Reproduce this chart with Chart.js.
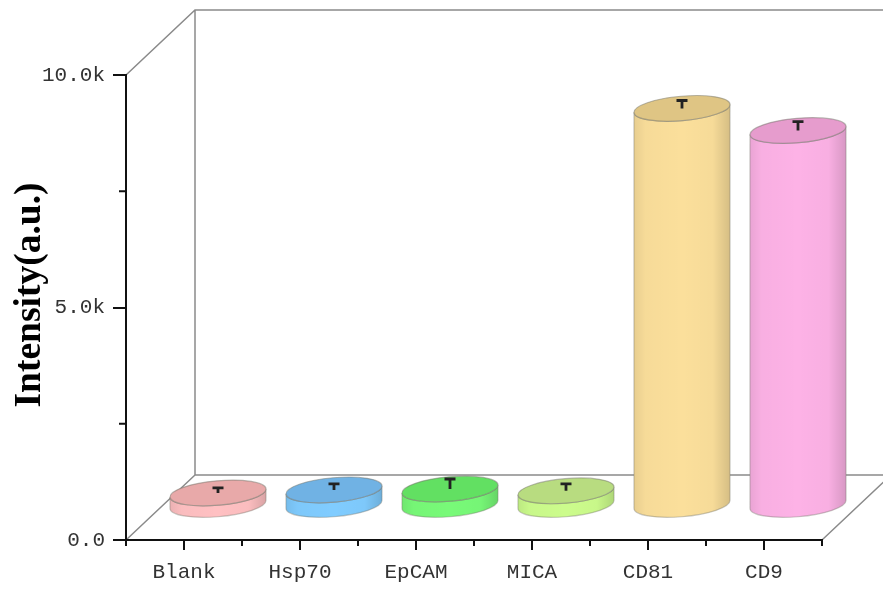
<!DOCTYPE html>
<html>
<head>
<meta charset="utf-8">
<style>
  html, body { margin: 0; padding: 0; background: #fff; }
  canvas { display: block; }
</style>
<script src="https://cdn.jsdelivr.net/npm/chart.js@4"></script>
</head>
<body>
<canvas id="intensity" width="883" height="593"></canvas>
<script>
const categories = ['Blank', 'Hsp70', 'EpCAM', 'MICA', 'CD81', 'CD9'];
const intensity = [270, 335, 355, 315, 8540, 8065];
const errors = [110, 130, 215, 150, 170, 190];
const sideColors = ['#ffc0c2', '#80ccff', '#78fa78', '#ccfc8c', '#fbdf9b', '#fdb2e6'];
const topColors = ['#e8a9a9', '#70b2e4', '#62e062', '#b8dc80', '#dfc584', '#e69ccd'];
const yTickValues = [0, 5000, 10000];
const yTickLabels = ['0.0', '5.0k', '10.0k'];
const yMinorTicks = [2500, 7500];

// oblique offset of the back wall, cylinders stand half way into it
const backDx = 69, backDy = 65;
const barDx = 34, barDy = 34.5;
const ellipseB = 12.2, ellipseTilt = -5 * Math.PI / 180;

// the original labels are in a fixed width font
const axisFont = { family: '"Liberation Mono", monospace', size: 21 };

function drawFrame(chart) {
    const ctx = chart.ctx, a = chart.chartArea;
    ctx.save();
    ctx.strokeStyle = '#8a8a8a';
    ctx.lineWidth = 1.5;
    ctx.beginPath();
    ctx.moveTo(a.left, a.top);
    ctx.lineTo(a.left + backDx, a.top - backDy);
    ctx.lineTo(a.right + backDx, a.top - backDy);
    ctx.moveTo(a.left + backDx, a.top - backDy);
    ctx.lineTo(a.left + backDx, a.bottom - backDy);
    ctx.lineTo(a.right + backDx, a.bottom - backDy);
    ctx.moveTo(a.left, a.bottom);
    ctx.lineTo(a.left + backDx, a.bottom - backDy);
    ctx.moveTo(a.right, a.bottom);
    ctx.lineTo(a.right + backDx, a.bottom - backDy);
    ctx.stroke();
    ctx.restore();
}

function drawCylinder(ctx, bar, side, top) {
    const halfW = bar.width / 2;
    const cx = bar.x + barDx, topY = bar.y - barDy, baseY = bar.base - barDy;
    const sin = Math.sin(ellipseTilt), cos = Math.cos(ellipseTilt);
    const a = Math.sqrt(halfW * halfW - ellipseB * ellipseB * sin * sin) / cos;
    const t0 = Math.atan(-ellipseB * sin / (a * cos));
    const leftDy = a * Math.cos(t0 + Math.PI) * sin + ellipseB * Math.sin(t0 + Math.PI) * cos;

    ctx.beginPath();
    ctx.ellipse(cx, baseY, a, ellipseB, ellipseTilt, t0, t0 + Math.PI);
    ctx.lineTo(cx - halfW, topY + leftDy);
    ctx.ellipse(cx, topY, a, ellipseB, ellipseTilt, t0 + Math.PI, t0, true);
    ctx.closePath();
    ctx.fillStyle = side;
    ctx.fill();

    // shading across the body
    const shade = ctx.createLinearGradient(cx - halfW, 0, cx + halfW, 0);
    shade.addColorStop(0, 'rgba(0,0,0,0.08)');
    shade.addColorStop(0.12, 'rgba(0,0,0,0.02)');
    shade.addColorStop(0.5, 'rgba(0,0,0,0)');
    shade.addColorStop(0.82, 'rgba(0,0,0,0.02)');
    shade.addColorStop(1, 'rgba(0,0,0,0.15)');
    ctx.fillStyle = shade;
    ctx.fill();
    ctx.strokeStyle = 'rgba(120,120,110,0.4)';
    ctx.lineWidth = 1.2;
    ctx.stroke();

    ctx.beginPath();
    ctx.ellipse(cx, topY, a, ellipseB, ellipseTilt, 0, Math.PI * 2);
    ctx.fillStyle = top;
    ctx.fill();
    ctx.strokeStyle = 'rgba(120,120,110,0.5)';
    ctx.stroke();
}

function drawErrorBar(ctx, bar, y, err) {
    const cx = bar.x + barDx;
    const yTop = y.getPixelForValue(err) - barDy;
    ctx.strokeStyle = '#222';
    ctx.lineWidth = 2.8;
    ctx.beginPath();
    ctx.moveTo(cx, bar.y - barDy);
    ctx.lineTo(cx, yTop);
    ctx.moveTo(cx - 5.5, yTop);
    ctx.lineTo(cx + 5.5, yTop);
    ctx.stroke();
}

const cylinderPlugin = {
    id: 'cylinders',
    beforeDraw: drawFrame,
    // the flat bars are replaced by the cylinders below
    beforeDatasetDraw: function() { return false; },
    afterDatasetsDraw: function(chart) {
        const ctx = chart.ctx, y = chart.scales.y;
        const bars = chart.getDatasetMeta(0).data;
        ctx.save();
        bars.forEach(function(bar, i) {
            drawCylinder(ctx, bar, sideColors[i], topColors[i]);
            drawErrorBar(ctx, bar, y, intensity[i] + errors[i]);
        });

        // minor ticks, chart.js only has one tick length per axis
        const a = chart.chartArea;
        ctx.strokeStyle = '#111';
        ctx.lineWidth = 2;
        ctx.beginPath();
        yMinorTicks.forEach(function(v) {
            const py = y.getPixelForValue(v);
            ctx.moveTo(a.left, py);
            ctx.lineTo(a.left - 7, py);
        });
        for (let i = 0; i <= categories.length; i++) {
            const px = a.left + (a.right - a.left) * i / categories.length;
            ctx.moveTo(px, a.bottom);
            ctx.lineTo(px, a.bottom + 6);
        }
        ctx.stroke();

        // axis title, sits a bit above the middle of the axis
        ctx.translate(30, 295);
        ctx.rotate(-Math.PI / 2);
        ctx.font = 'bold 37.5px "Liberation Serif", serif';
        ctx.fillStyle = '#000';
        ctx.textAlign = 'center';
        ctx.textBaseline = 'middle';
        ctx.fillText('Intensity(a.u.)', 0, 0);
        ctx.restore();
    }
};

document.addEventListener('DOMContentLoaded', function() {
    const ctx = document.getElementById('intensity').getContext('2d');
    new Chart(ctx, {
        type: 'bar',
        data: {
            labels: categories,
            datasets: [{
                data: intensity,
                label: 'Intensity(a.u.)',
                backgroundColor: sideColors,
                barPercentage: 0.828,
                categoryPercentage: 1
            }]
        },
        options: {
            responsive: false,
            animation: false,
            layout: { padding: { top: 75, right: 61, bottom: 0, left: 0 } },
            plugins: { legend: { display: false }, tooltip: { enabled: false } },
            scales: {
                x: {
                    grid: { offset: false, drawOnChartArea: false, color: '#111', lineWidth: 2, tickLength: 10 },
                    border: { color: '#111', width: 2 },
                    ticks: { font: axisFont, color: '#333', padding: 10, maxRotation: 0, autoSkip: false },
                    afterFit: function(scale) { scale.height = 53; }
                },
                y: {
                    min: 0,
                    max: 10000,
                    grid: { drawOnChartArea: false, color: '#111', lineWidth: 2, tickLength: 13 },
                    border: { color: '#111', width: 2 },
                    afterBuildTicks: function(scale) {
                        scale.ticks = yTickValues.map(function(v) { return { value: v }; });
                    },
                    ticks: {
                        font: axisFont,
                        color: '#333',
                        padding: 8,
                        callback: function(value, i) { return yTickLabels[i]; }
                    },
                    afterFit: function(scale) { scale.width = 126; }
                }
            }
        },
        plugins: [cylinderPlugin]
    });
});
</script>
</body>
</html>
